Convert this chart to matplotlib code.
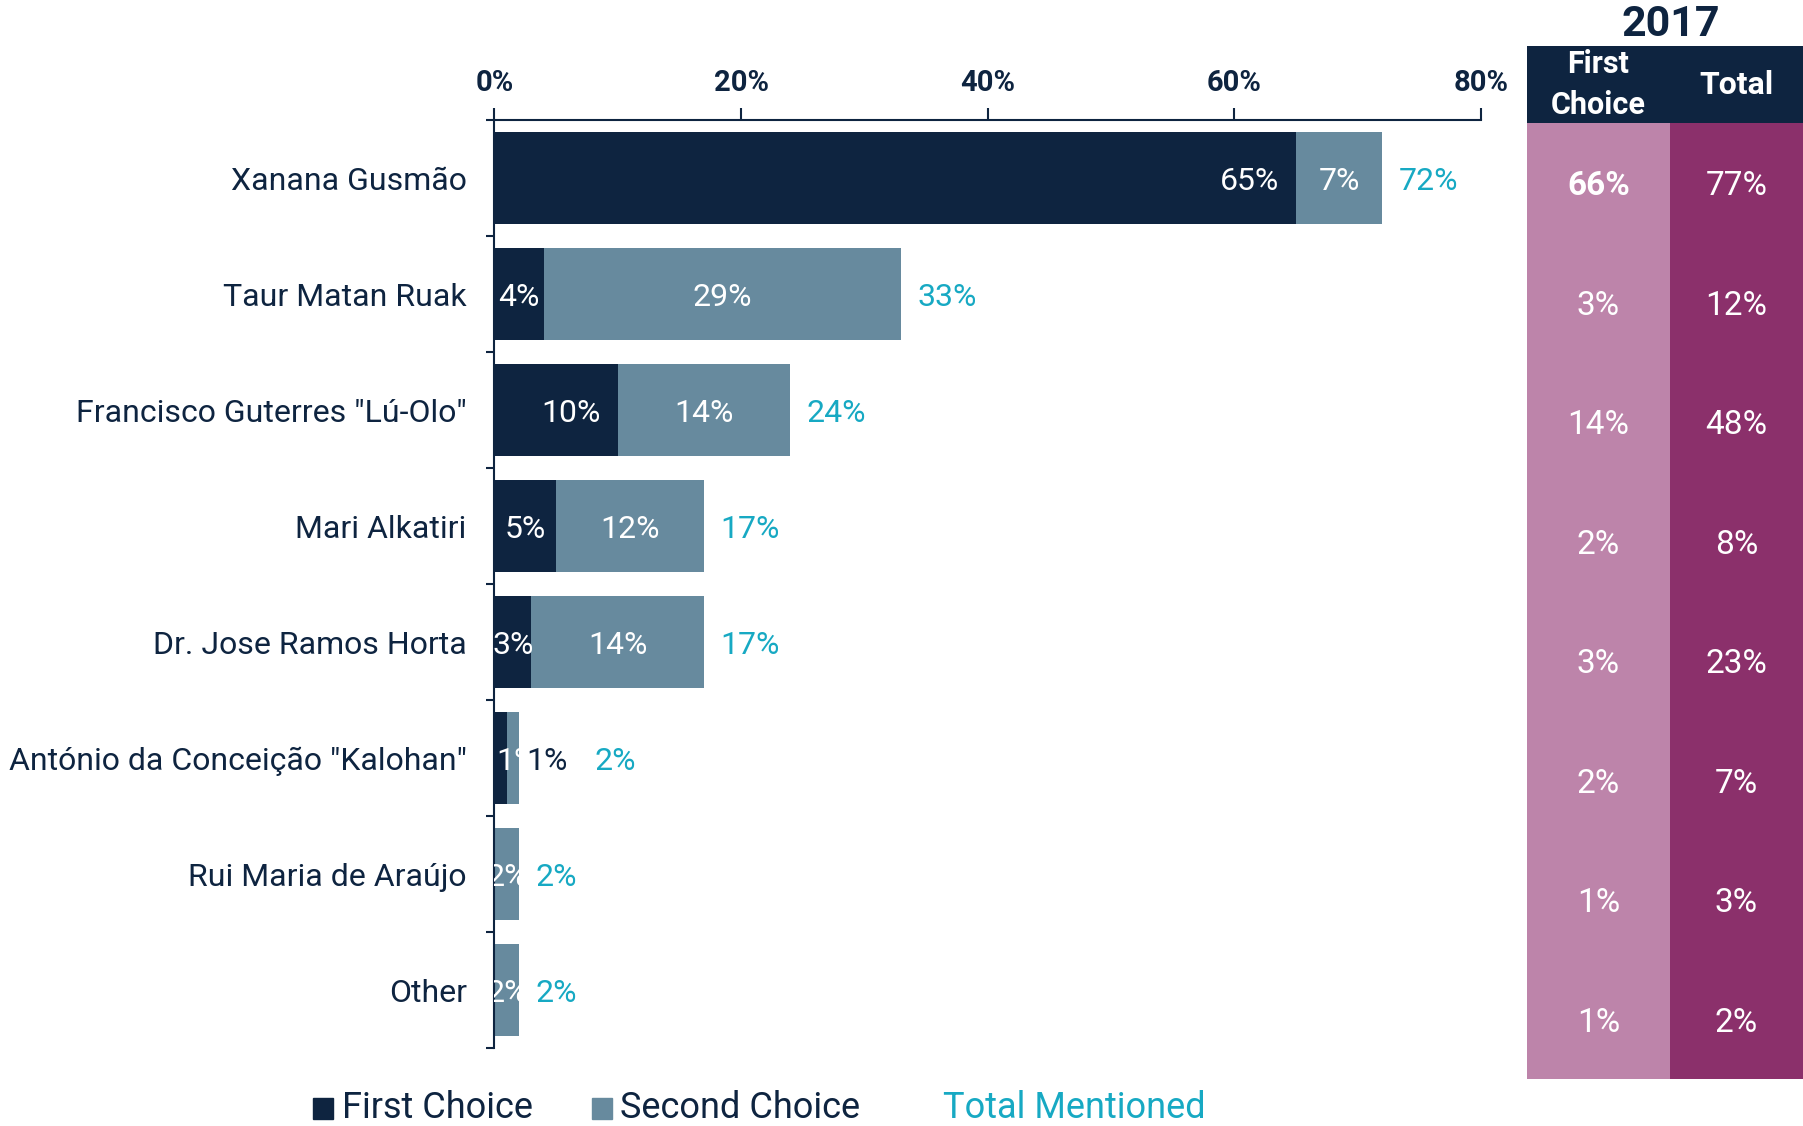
import matplotlib.pyplot as plt
from matplotlib.patches import Rectangle
import numpy as np

plt.rcParams['font.family'] = ['Roboto', 'DejaVu Sans']

candidates = ['Xanana Gusmão', 'Taur Matan Ruak', 'Francisco Guterres "Lú-Olo"',
              'Mari Alkatiri', 'Dr. Jose Ramos Horta', 'António da Conceição "Kalohan"',
              'Rui Maria de Araújo', 'Other']
first_choice = [65, 4, 10, 5, 3, 1, 0, 0]
second_choice = [7, 29, 14, 12, 14, 1, 2, 2]
total_mentioned = [72, 33, 24, 17, 17, 2, 2, 2]

year_label = '2017'
prev_first = [66, 3, 14, 2, 3, 2, 1, 1]
prev_total = [77, 12, 48, 8, 23, 7, 3, 2]

NAVY = '#0e2440'
STEEL = '#678a9e'
TEAL = '#17a9c3'
PINK = '#bd84aa'
PLUM = '#8b306b'

W, H = 1803, 1126
fig = plt.figure(figsize=(W / 100, H / 100), dpi=100)


def label(axis, text, xy, dx=0, ha='center', color='white', clip=None, **kw):
    t = axis.annotate(text, xy, xytext=(dx, 0), textcoords='offset points',
                      ha=ha, va='center_baseline', color=color, **kw)
    if clip is not None:
        t.set_clip_on(True)
        t.set_clip_path(clip)
    return t


# main stacked bars
ax = fig.add_axes([494.5 / W, 1 - 1048 / H, 986.5 / W, 928 / H])
y = np.arange(len(candidates))
bar_h = 0.79
ax.barh(y, first_choice, height=bar_h, color=NAVY)
ax.barh(y, second_choice, left=first_choice, height=bar_h, color=STEEL)

for i in range(len(candidates)):
    f, s, t = first_choice[i], second_choice[i], total_mentioned[i]
    clip = Rectangle((0, i - bar_h / 2), f + s, bar_h, transform=ax.transData)
    if f > 0:
        if f >= 10:
            label(ax, f'{f}%', (f, i), dx=-12, ha='right', clip=clip, fontsize=23)
        elif f < 3:
            label(ax, f'{f}%', (0, i), dx=1.5, ha='left', clip=clip, fontsize=23)
        else:
            label(ax, f'{f}%', (f / 2, i), clip=clip, fontsize=23)
    shift = 11.5
    if s > 0:
        if s < 2 and f > 0:
            label(ax, f'{s}%', (f + s, i), dx=5, ha='left', color=NAVY, fontsize=23)
            shift = 54
        else:
            label(ax, f'{s}%', (f + s / 2, i), clip=clip, fontsize=23)
    label(ax, f'{t}%', (f + s, i), dx=shift, ha='left', color=TEAL, fontsize=23)

ax.set_xlim(0, 80)
ax.set_ylim(len(candidates) - 0.5, -0.5)
ax.xaxis.tick_top()
ax.set_xticks([0, 20, 40, 60, 80])
ax.set_xticklabels([f'{v}%' for v in [0, 20, 40, 60, 80]], fontweight='bold')
ax.tick_params(axis='x', direction='out', length=8.5, width=1.5, color=NAVY,
               labelcolor=NAVY, labelsize=21, pad=8)
ax.set_yticks(y)
ax.set_yticklabels(candidates)
ax.set_yticks(np.arange(-0.5, len(candidates), 1), minor=True)
ax.tick_params(axis='y', which='major', length=0, pad=20, labelsize=23, labelcolor=NAVY)
ax.tick_params(axis='y', which='minor', direction='out', length=6, width=1.5, color=NAVY)
for side in ['right', 'bottom']:
    ax.spines[side].set_visible(False)
for side in ['top', 'left']:
    ax.spines[side].set_color(NAVY)
    ax.spines[side].set_linewidth(1.5)

# side table with the earlier survey
tab = fig.add_axes([1527 / W, 1 - 1079 / H, 276 / W, 1033 / H])
head = 77 / 119.5
split = 143 / 138
tab.set_xlim(0, 2)
tab.set_ylim(len(candidates) - 0.5, -0.5 - head)
tab.axis('off')
tab.add_patch(Rectangle((0, -0.5 - head), 2, head, color=NAVY, lw=0))
tab.add_patch(Rectangle((0, -0.5), split, len(candidates), color=PINK, lw=0))
tab.add_patch(Rectangle((split, -0.5), 2 - split, len(candidates), color=PLUM, lw=0))
col1 = split / 2
col2 = (split + 2) / 2
tab.text(col1, -0.5 - head / 2, 'First\nChoice', ha='center', va='center', color='white',
         fontsize=22, fontweight='bold', linespacing=1.45)
tab.text(col2, -0.5 - head / 2, 'Total', ha='center', va='center', color='white',
         fontsize=23, fontweight='bold')
for i in range(len(candidates)):
    label(tab, f'{prev_first[i]}%', (col1, i), fontsize=24,
          fontweight='bold' if i == 0 else 'normal')
    label(tab, f'{prev_total[i]}%', (col2, i), fontsize=24)
fig.text(1671 / W, 1 - 25 / H, year_label, ha='center', va='center', color=NAVY,
         fontsize=31, fontweight='bold')

# legend along the bottom
legend_y = 1 - 1118 / H
fig.patches.append(Rectangle((313 / W, 1 - 1119 / H), 20 / W, 21 / H, color=NAVY,
                             transform=fig.transFigure, figure=fig))
fig.text(342 / W, legend_y, 'First Choice', color=NAVY, fontsize=26, va='baseline')
fig.patches.append(Rectangle((592 / W, 1 - 1119 / H), 20 / W, 21 / H, color=STEEL,
                             transform=fig.transFigure, figure=fig))
fig.text(620 / W, legend_y, 'Second Choice', color=NAVY, fontsize=26, va='baseline')
fig.text(943 / W, legend_y, 'Total Mentioned', color=TEAL, fontsize=26, va='baseline')

fig.savefig('out.png', dpi=100)
